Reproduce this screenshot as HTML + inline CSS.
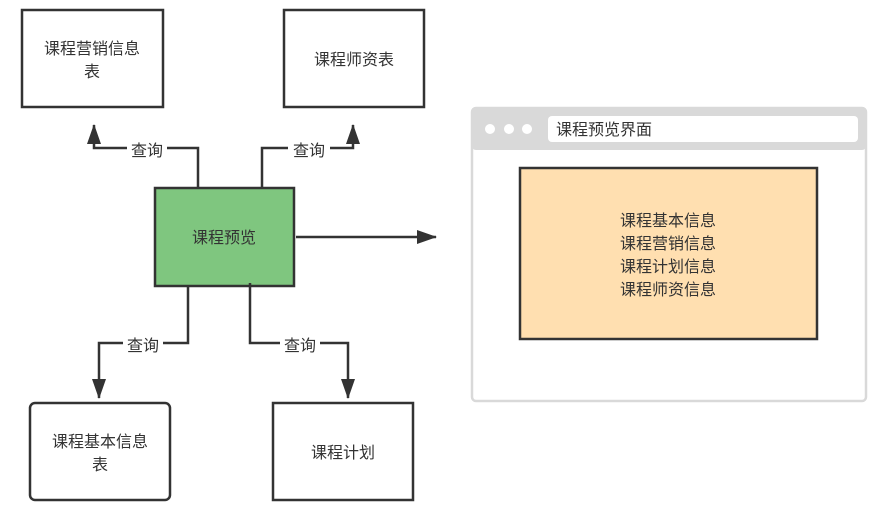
<!DOCTYPE html><html><head><meta charset="utf-8"><style>body{margin:0;background:#fff}svg{display:block}text{font-family:"Liberation Sans","Noto Sans CJK SC",sans-serif;font-size:16px;fill:#333}</style></head><body>
<svg width="880" height="509" viewBox="0 0 880 509">
<defs><marker id="a" markerWidth="10" markerHeight="10" refX="9" refY="5" orient="auto" markerUnits="userSpaceOnUse"><path d="M0,0 L10,5 L0,10 z" fill="#333"/></marker>
<marker id="b" markerWidth="20" markerHeight="14" refX="19" refY="7" orient="auto" markerUnits="userSpaceOnUse"><path d="M0,0 L20,7 L0,14 z" fill="#333"/></marker></defs>
<g fill="none" stroke="#333" stroke-width="2.5">
<rect x="22" y="10" width="141" height="97" fill="#fff"/>
<rect x="284" y="10" width="140" height="97" fill="#fff"/>
<rect x="155" y="188" width="139" height="98" fill="#7fc67f"/>
<rect x="30" y="403" width="140" height="97" rx="5" fill="#fff"/>
<rect x="273" y="403" width="140" height="97" fill="#fff"/>
<path d="M198,188 V148 H94 V125" marker-end="url(#b)"/>
<path d="M262,188 V148 H353 V125" marker-end="url(#b)"/>
<path d="M296,237 H436" marker-end="url(#b)"/>
<path d="M188,286 V343 H99 V398" marker-end="url(#b)"/>
<path d="M250,283 V343 H348 V398" marker-end="url(#b)"/>
</g>
<rect x="472" y="108" width="394" height="293" rx="4" fill="#fff" stroke="#d9d9d9" stroke-width="2.5"/>
<rect x="472" y="108" width="394" height="42" rx="4" fill="#d9d9d9"/>
<circle cx="490" cy="129" r="5" fill="#fff"/><circle cx="509" cy="129" r="5" fill="#fff"/><circle cx="527" cy="129" r="5" fill="#fff"/>
<rect x="548" y="116" width="310" height="26" rx="4" fill="#fff"/>
<rect x="520" y="168" width="297" height="171" fill="#ffdfb0" stroke="#333" stroke-width="2.5"/>
<g fill="#fff"><rect x="127" y="139" width="40" height="20"/><rect x="288" y="139" width="42" height="20"/><rect x="123" y="335" width="40" height="20"/><rect x="280" y="335" width="40" height="20"/></g>
<text x="147" y="156" text-anchor="middle">查询</text>
<text x="309" y="156" text-anchor="middle">查询</text>
<text x="143" y="351" text-anchor="middle">查询</text>
<text x="300" y="351" text-anchor="middle">查询</text>
<text x="92" y="54" text-anchor="middle">课程营销信息</text>
<text x="92" y="77" text-anchor="middle">表</text>
<text x="354" y="65" text-anchor="middle">课程师资表</text>
<text x="224" y="243" text-anchor="middle">课程预览</text>
<text x="100" y="447" text-anchor="middle">课程基本信息</text>
<text x="100" y="470" text-anchor="middle">表</text>
<text x="343" y="458" text-anchor="middle">课程计划</text>
<text x="556" y="135">课程预览界面</text>
<text x="668" y="226" text-anchor="middle">课程基本信息</text>
<text x="668" y="249" text-anchor="middle">课程营销信息</text>
<text x="668" y="272" text-anchor="middle">课程计划信息</text>
<text x="668" y="295" text-anchor="middle">课程师资信息</text>
</svg></body></html>
